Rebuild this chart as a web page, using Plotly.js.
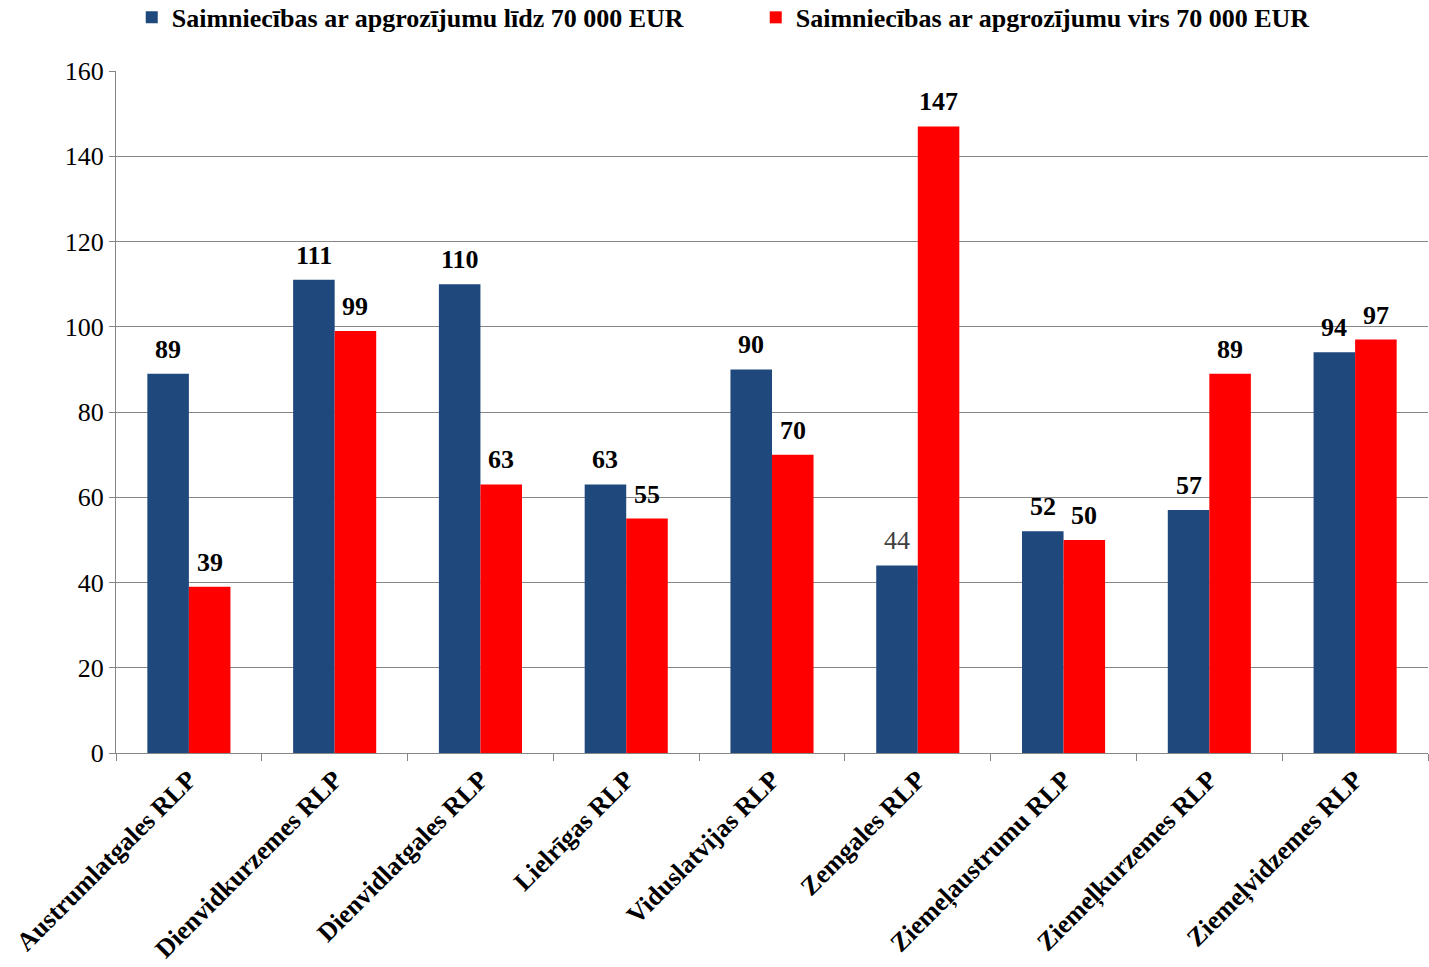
<!DOCTYPE html>
<html><head><meta charset="utf-8">
<script src="https://cdn.plot.ly/plotly-3.0.1.min.js"></script>
<style>body{margin:0;background:#fff}#c{width:1429px;height:967px}</style>
</head><body><div id="c"></div>
<script>
const categories = ["Austrumlatgales RLP","Dienvidkurzemes RLP","Dienvidlatgales RLP","Lielrīgas RLP","Viduslatvijas RLP","Zemgales RLP","Ziemeļaustrumu RLP","Ziemeļkurzemes RLP","Ziemeļvidzemes RLP"];
const seriesNames = ["Saimniecības ar apgrozījumu līdz 70 000 EUR","Saimniecības ar apgrozījumu virs 70 000 EUR"];
const below70k = [89,111,110,63,90,44,52,57,94];
const above70k = [39,99,63,55,70,147,50,89,97];
const yTicks = [0,20,40,60,80,100,120,140,160];

const font = "Liberation Serif, Times New Roman, serif";
const W = 1429, H = 967, M = {l:116, r:1, t:71, b:214};
const bargap = 0.43;
const barPx = (W - M.l - M.r) / categories.length * (1 - bargap) / 2;

const traces = [
  {type:"bar", name:seriesNames[0], x:categories, y:below70k, marker:{color:"#1F497D"}},
  {type:"bar", name:seriesNames[1], x:categories, y:above70k, marker:{color:"#FF0000"}}
];
const annotations = [];
[below70k, above70k].forEach((vals, s) => {
  vals.forEach((v, i) => {
    const plain = (s === 0 && i === 5);
    annotations.push({
      x: categories[i], y: v, xref:"x", yref:"y",
      text: plain ? String(v) : "<b>" + v + "</b>",
      showarrow:false, yanchor:"bottom", xanchor:"center",
      xshift: (s === 0 ? -1 : 1) * barPx / 2, yshift: 8,
      font:{family:font, size:26, color: plain ? "#404040" : "#000"}
    });
  });
});
const layout = {
  width:W, height:H,
  margin:{l:M.l, r:M.r, t:M.t, b:M.b, autoexpand:false},
  paper_bgcolor:"#fff", plot_bgcolor:"#fff",
  barmode:"group", bargap:bargap, bargroupgap:0,
  font:{family:font,size:26,color:"#000"},
  showlegend:true,
  legend:{orientation:"h", x:0.012, xanchor:"left", y:1.113, yanchor:"top",
    font:{family:font,size:26,weight:"bold"}, traceorder:"normal", entrywidth:579, entrywidthmode:"pixels"},
  annotations: annotations,
  xaxis:{tickangle:-45, tickfont:{family:font,size:26,weight:"bold"}, showline:true, linecolor:"#868686",
    ticks:"outside", tickson:"boundaries", ticklen:7, tickcolor:"#868686", showgrid:false},
  yaxis:{range:[0,160], tickvals:yTicks, showgrid:true, gridcolor:"#868686", gridwidth:1,
    showline:true, linecolor:"#868686", ticks:"outside", ticklen:6, tickcolor:"#868686",
    tickfont:{family:font,size:26,color:"#000"}, zeroline:false, fixedrange:true}
};
Plotly.newPlot("c", traces, layout, {displayModeBar:false, staticPlot:true});
</script></body></html>
